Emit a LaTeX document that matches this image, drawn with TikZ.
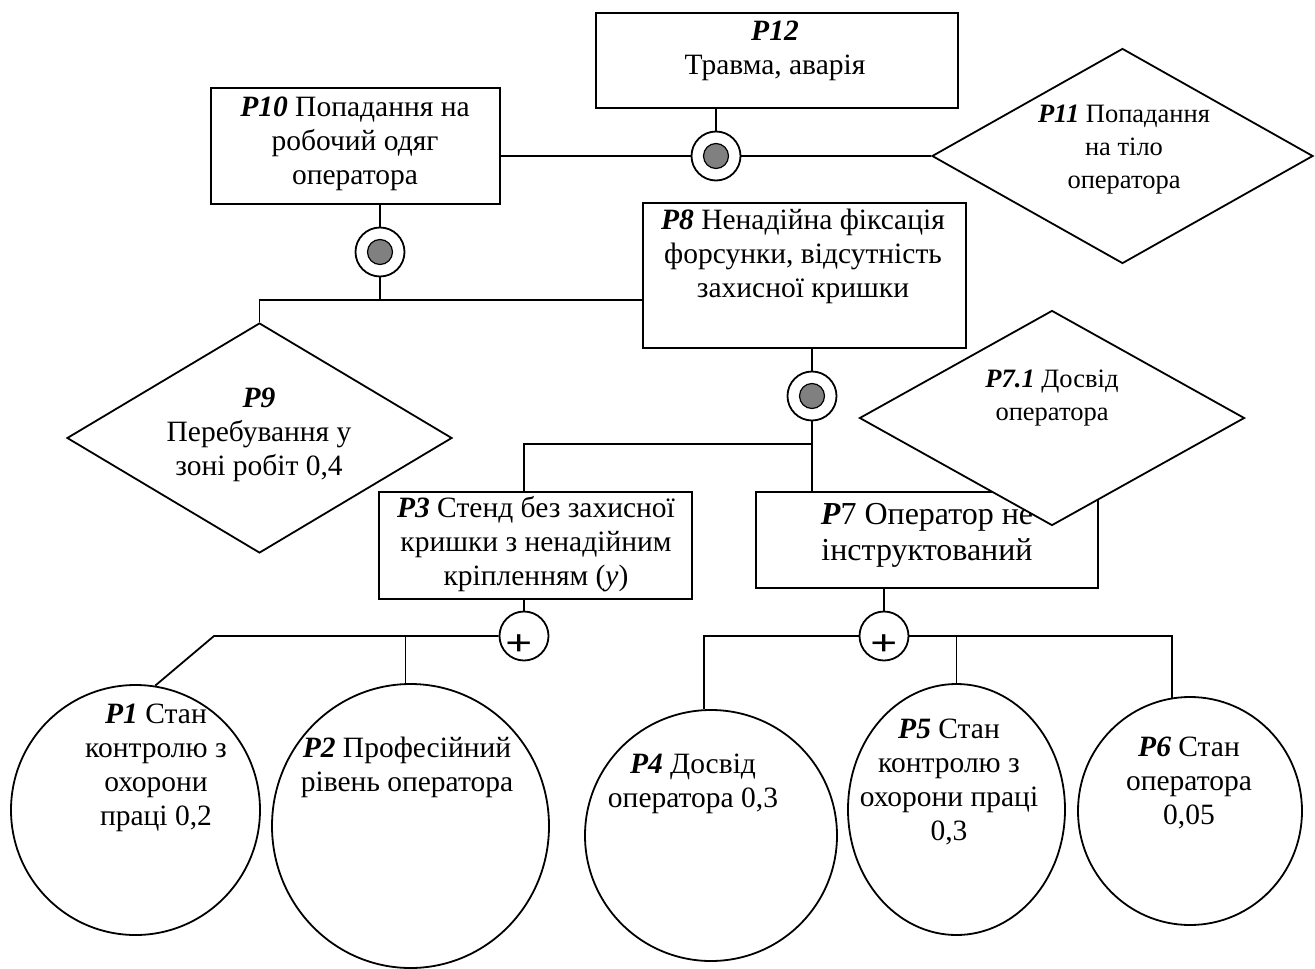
\documentclass[tikz,border=0pt]{standalone}
\usepackage{fontspec}
\setmainfont{Liberation Serif}
\usetikzlibrary{shapes.geometric}

\newcommand{\pn}[1]{\textbf{\textit{#1}}}

\tikzset{
  box/.style={draw, rectangle, fill=white, inner sep=0pt},
  rhomb/.style={draw, diamond, fill=white, inner sep=0pt},
  oval/.style={draw, ellipse, fill=white, inner sep=0pt},
  txt/.style={align=center, inner sep=0pt, font=\fontsize{29.5}{34}\selectfont},
  smalltxt/.style={txt, font=\fontsize{26.5}{33}\selectfont},
  bigtxt/.style={txt, font=\fontsize{32}{36}\selectfont},
  andgate/.style={draw, circle, fill=white, inner sep=0pt, minimum size=49pt,
    path picture={\filldraw[fill=gray, line width=1.2pt] (path picture bounding box.center) circle (12.5pt);}},
  orgate/.style={draw, circle, fill=white, inner sep=0pt, minimum size=49pt},
  plus/.style={inner sep=0pt, font=\fontsize{40}{40}\selectfont\bfseries}
}

\begin{document}
\begin{tikzpicture}[x=1pt, y=-1pt, line width=1.8pt]
\useasboundingbox (0,0) rectangle (1315,969);
% upper events
\node[box, minimum width=362pt, minimum height=95pt] (p12) at (777,60.5) {};
\node[txt] (p12t) at (775,50.5) {\pn{P12}\\Травма, аварія};
\node[box, minimum width=289pt, minimum height=116pt] (p10) at (355.5,146) {};
\node[txt] (p10t) at (355,144) {\pn{P10} Попадання на\\робочий одяг\\оператора};
\node[rhomb, minimum width=381pt, minimum height=215pt] (p11) at (1122.5,156) {};
\node[smalltxt] (p11t) at (1124,150) {\pn{P11} Попадання\\на тіло\\оператора};
\node[andgate] (g1) at (716,156) {};
\node[box, minimum width=323pt, minimum height=145pt] (p8) at (804.5,275.5) {};
\node[txt] (p8t) at (803,256.5) {\pn{P8} Ненадійна фіксація\\форсунки, відсутність\\захисної кришки};
\node[andgate] (g2) at (380,252) {};
\node[rhomb, minimum width=385pt, minimum height=230pt] (p9) at (259.5,438) {};
\node[txt] (p9t) at (259,435) {\pn{P9}\\Перебування у\\зоні робіт 0,4};
\node[andgate] (g3) at (812,396) {};
% middle events
\node[box, minimum width=313pt, minimum height=107pt] (p3) at (535.5,545.5) {};
\node[txt] (p3t) at (536,544) {\pn{P3} Стенд без захисної\\кришки з ненадійним\\кріпленням (\textit{y})};
\node[box, minimum width=342pt, minimum height=96pt] (p7) at (927,540) {};
\node[bigtxt] (p7t) at (927,535) {\pn{P}7 Оператор не\\інструктований};
\node[rhomb, minimum width=385pt, minimum height=215pt] (p71) at (1052,418) {};
\node[smalltxt] (p71t) at (1052,398.5) {\pn{P7.1} Досвід\\оператора};
\node[orgate] (or1) at (524,636) {};
\node[plus] (or1p) at (519.5,645.5) {\scalebox{1.2}[0.92]{+}};
\node[orgate] (or2) at (884,636) {};
\node[plus] (or2p) at (884,645) {\scalebox{1.2}[0.92]{+}};
% base events
\node[oval, minimum width=249pt, minimum height=250pt] (p1) at (135.5,810) {};
\node[txt] (p1t) at (156,767.5) {\pn{P1} Стан\\контролю з\\охорони\\праці 0,2};
\node[oval, minimum width=277pt, minimum height=284pt] (p2) at (410.5,826) {};
\node[txt] (p2t) at (407,767.5) {\pn{P2} Професійний\\рівень оператора};
\node[oval, minimum width=252pt, minimum height=251pt] (p4) at (711,835.5) {};
\node[txt] (p4t) at (693,783.5) {\pn{P4} Досвід\\оператора 0,3};
\node[oval, minimum width=217pt, minimum height=251pt] (p5) at (956.5,809.5) {};
\node[txt] (p5t) at (949,781.5) {\pn{P5} Стан\\контролю з\\охорони праці\\0,3};
\node[oval, minimum width=224pt, minimum height=228pt] (p6) at (1190,811) {};
\node[txt] (p6t) at (1189,782.5) {\pn{P6} Стан\\оператора\\0,05};
% connectors
\coordinate (t1) at (380,300);
\coordinate (t2) at (812,444);
\coordinate (k1) at (214,636);
\draw (p12.south -| g1) -- (g1);
\draw (p10.east |- g1) -- (g1) -- (p11.west);
\draw (p10.south -| g2) -- (g2) -- (t1);
\draw (p9.north) |- (t1) -- (p8.west |- t1);
\draw (p8.south -| g3) -- (g3) -- (g3 |- p7.north);
\draw (t2) -| (p3.north -| or1);
\draw (p3.south -| or1) -- (or1);
\draw (or1) -- (k1) -- (p1.81);
\draw (p2.92) -- (p2.92 |- or1);
\draw (p7.south -| or2) -- (or2);
\draw (p4.93) |- (or2) -| (p6.99);
\draw (p5.north) -- (p5.north |- or2);
\end{tikzpicture}
\end{document}
